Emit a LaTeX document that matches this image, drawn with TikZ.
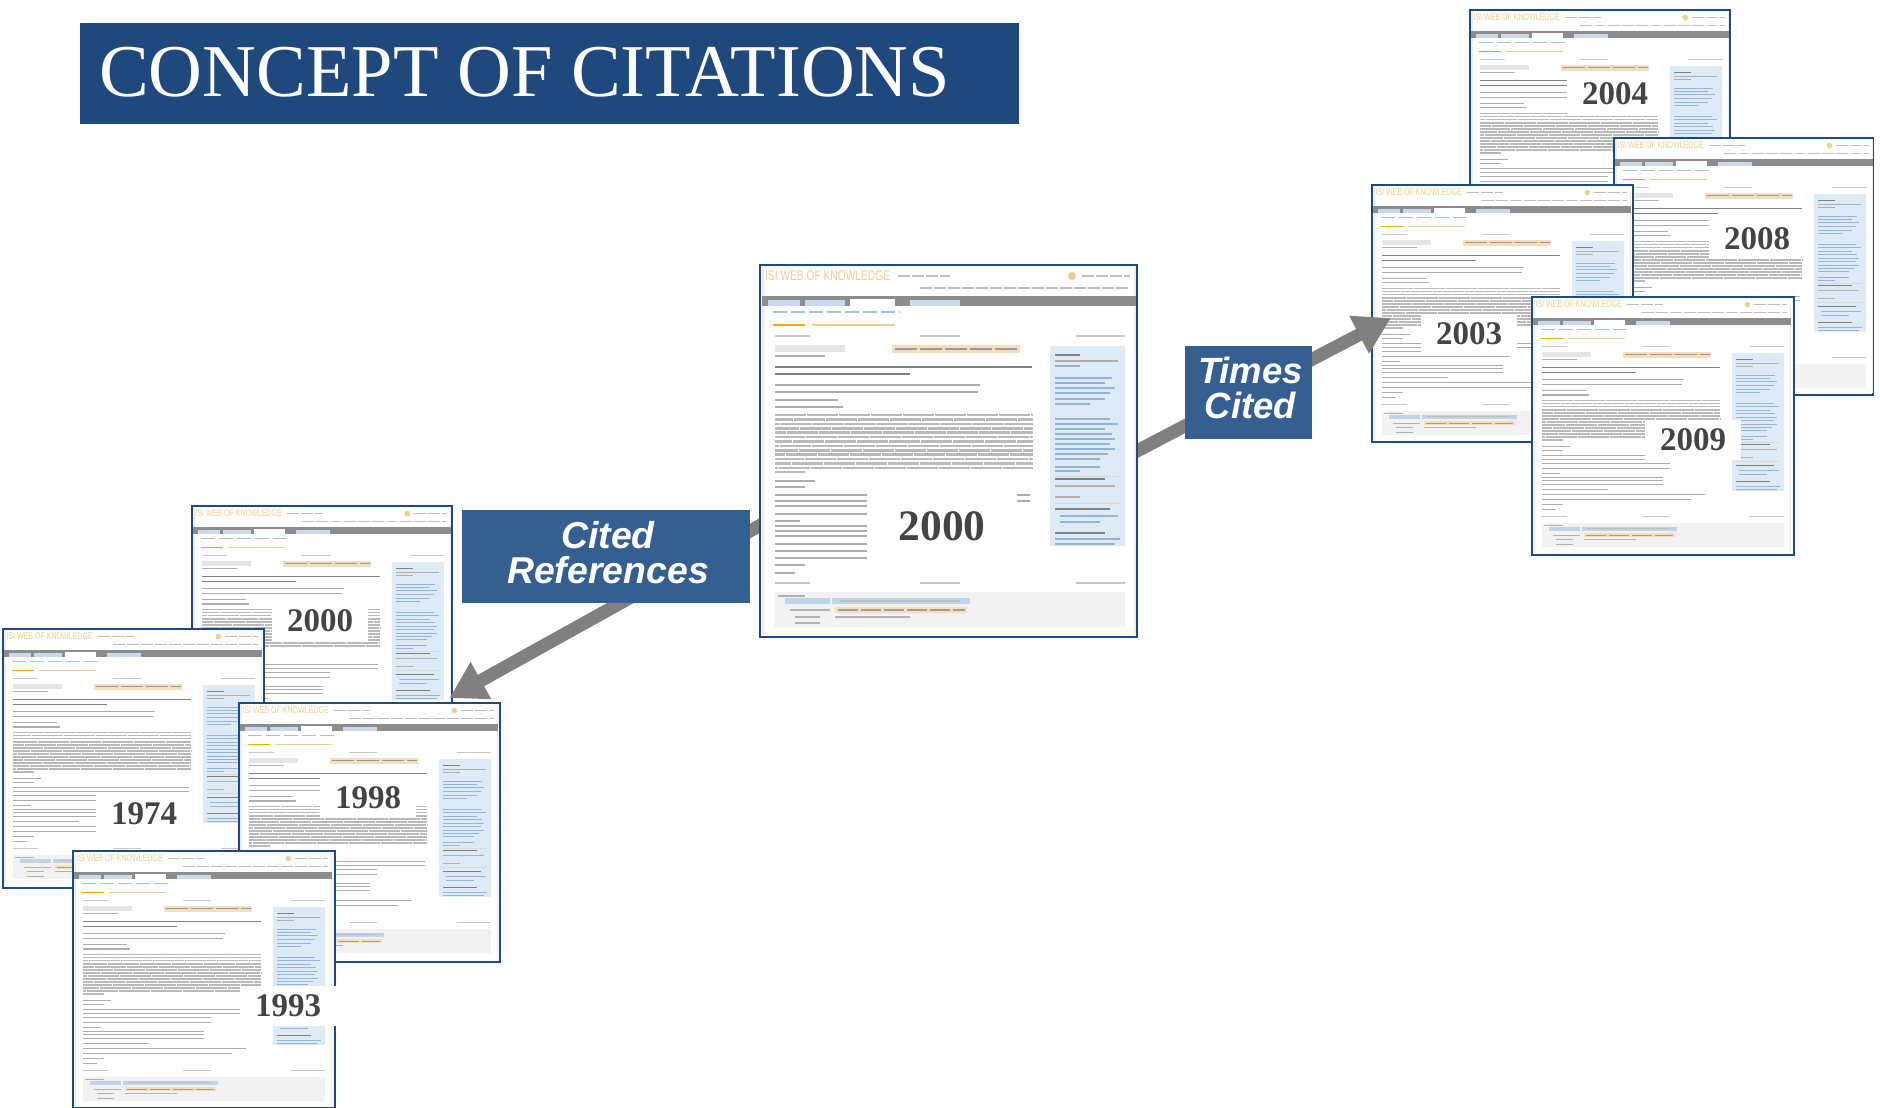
\documentclass[tikz,border=0pt]{standalone}
\usepackage{fontspec}
\setmainfont{Liberation Serif}
\setsansfont{Liberation Sans}
\usetikzlibrary{arrows.meta,calc}
\pgfdeclarelayer{front}
\definecolor{navyframe}{HTML}{1F4A80}
\definecolor{titleblue}{HTML}{1F497D}
\definecolor{labelblue}{HTML}{365F91}
\definecolor{arrowgrey}{HTML}{808080}
\definecolor{yeargrey}{HTML}{444444}
\definecolor{wokorange}{HTML}{F0CE96}
\definecolor{wokbutton}{HTML}{F6DDBB}
\definecolor{wokside}{HTML}{DDEBF6}
\definecolor{wokblue}{HTML}{A5C2DF}
\definecolor{woklink}{HTML}{93B3D8}
\definecolor{wokband}{HTML}{8C8C8C}
\tikzset{
  cardframe/.style={draw=navyframe,line width=2.5pt,fill=white,anchor=north west,inner sep=0pt,outer sep=0pt},
  yearbox/.style={fill=white,inner sep=0pt,text=yeargrey,font=\bfseries},
  labelbox/.style={fill=labelblue,text=white,align=center,inner sep=0pt,outer sep=0pt,anchor=north west,font=\sffamily\bfseries\itshape},
  linkarrow/.style={draw=arrowgrey,line width=13pt,shorten <=-20pt,-{Triangle[length=36pt,width=40pt,fill=arrowgrey]}}
}
% #1 name, #2 x, #3 y, #4 width, #5 height, #6 scale, #7 year, #8 year x, #9 year y
\newcommand{\wokcard}[9]{%
  \node[cardframe,minimum width=#4pt,minimum height=#5pt] (#1) at (#2,#3) {};
  \begin{scope}[shift={(#2,#3)},scale=#6]
    \def\SS{#6}
    \fill[black!7] (2,2) rectangle (4,\WokH);
    \fill[black!7] (374,2) rectangle (376,\WokH);
    \node[transform shape,anchor=west,inner sep=0pt,text=wokorange,font=\fontsize{14}{14}\sffamily,xscale=.73] at (5,11) {ISI WEB OF KNOWLEDGE};
    \fill[wokorange] (312,11) circle (4);
    \foreach \ya/\xa/\xb in {11/138/190,11/322/370,23/160/370}
      \draw[black!25,line width=\SS*1.3pt,dash pattern=on 12pt off 2pt] (\xa,\ya) -- (\xb,\ya);
    \fill[wokband] (2,31) rectangle (376,41);
    \fill[wokblue!60] (8,35) rectangle (40,41);
    \fill[wokblue!60] (45,35) rectangle (85,41);
    \fill[white] (90,34) rectangle (135,41);
    \fill[wokblue!60] (150,35) rectangle (200,41);
    \draw[wokblue,line width=\SS*1.2pt,dash pattern=on 14pt off 4pt] (13,47) -- (140,47);
    \draw[orange!70!yellow,line width=\SS*2pt] (13,60) -- (45,60);
    \draw[wokorange,line width=\SS*2pt] (52,60) -- (135,60);
    \foreach \xa/\xb in {15/50,160/200,316/365} {
      \draw[black!22,line width=\SS*1.2pt] (\xa,71) -- (\xb,71);
      \draw[black!22,line width=\SS*1.2pt] (\xa,318) -- (\xb,318);
    }
    \fill[black!10] (15,80) rectangle (85,87);
    \draw[black!30,line width=\SS*1.2pt] (15,91) -- (65,91);
    \fill[wokbutton] (132,80) rectangle (260,88);
    \draw[black!40,line width=\SS*1.4pt,dash pattern=on 22pt off 3pt] (135,84) -- (258,84);
    \draw[black!50,line width=\SS*1.9pt] (15,102) -- (272,102);
    \draw[black!50,line width=\SS*1.9pt] (15,109) -- (150,109);
    \foreach \ya/\xb in {120/220,127/218,135/78,142/83}
      \draw[black!32,line width=\SS*1.5pt] (15,\ya) -- (\xb,\ya);
    \foreach \k in {0,...,12}
      \draw[black!27,line width=\SS*2.6pt,dash pattern=on 31pt off 1pt,dash phase=\k*13pt] (15,150+\k*4.4) -- (273,150+\k*4.4);
    \draw[black!27,line width=\SS*2.6pt] (15,207) -- (45,207);
    \foreach \ya/\xb in {216/55,222/45,230/270,236/270,241/200,249/200,256/40,261/190,266/190,271/190,279/110,286/250,293/230,300/45,308/35}
      \draw[black!32,line width=\SS*1.4pt] (15,\ya) -- (\xb,\ya);
    \fill[black!5] (15,327) rectangle (365,362);
    \draw[black!30,line width=\SS*1.2pt] (18,331) -- (45,331);
    \fill[wokblue!70] (25,333) rectangle (70,339);
    \fill[wokblue!70] (72,333) rectangle (210,339);
    \draw[black!25,line width=\SS*1.2pt] (80,336) -- (200,336);
    \draw[black!30,line width=\SS*1.4pt] (30,345) -- (70,345);
    \fill[wokbutton] (75,342) rectangle (207,348);
    \draw[black!38,line width=\SS*1.2pt,dash pattern=on 20pt off 3pt] (78,345) -- (205,345);
    \foreach \ya/\xa/\xb in {352/35/60,352/75/150,358/35/60}
      \draw[black!30,line width=\SS*1.2pt] (\xa,\ya) -- (\xb,\ya);
    \fill[wokside] (290,81) rectangle (365,281);
    \draw[black!50,line width=\SS*1.5pt] (295,90) -- (320,90);
    \foreach \ya/\xb in {96/358,101/320}
      \draw[black!32,line width=\SS*1.2pt] (295,\ya) -- (\xb,\ya);
    \foreach \ya/\xb in {113/352,118/345,123/355,128/350,134/345,139/330,
                         154/350,159/358,164/345,169/352,174/355,179/350,184/355,189/348,194/340,
                         202/340,206/320}
      \draw[woklink,line width=\SS*1.3pt] (295,\ya) -- (\xb,\ya);
    \draw[black!15,line width=\SS*.8pt] (295,211) -- (360,211);
    \draw[black!50,line width=\SS*1.5pt] (295,214) -- (345,214);
    \draw[black!30,line width=\SS*1.2pt] (295,221) -- (355,221);
    \draw[black!30,line width=\SS*1.2pt] (295,232) -- (320,232);
    \draw[black!15,line width=\SS*.8pt] (295,238) -- (360,238);
    \draw[black!50,line width=\SS*1.5pt] (295,244) -- (350,244);
    \foreach \ya/\xb in {251/358,257/340}
      \draw[woklink,line width=\SS*1.3pt] (300,\ya) -- (\xb,\ya);
    \draw[black!50,line width=\SS*1.5pt] (295,268) -- (345,268);
    \foreach \ya/\xb in {274/360,279/355}
      \draw[woklink,line width=\SS*1.3pt] (295,\ya) -- (\xb,\ya);
  \end{scope}
  \node[yearbox,font=\bfseries\fontsize{\YearSize}{\YearSize}\selectfont,minimum width=\YearW pt,minimum height=\YearHt pt] (#1year) at (#8,#9) {#7};
}
\newcommand{\smallcards}{\def\WokH{370}\def\YearSize{33}\def\YearW{96}\def\YearHt{40}}
\begin{document}
\begin{tikzpicture}[x=1pt,y=-1pt]
\pgfsetlayers{main,front}
\useasboundingbox (0,0) rectangle (1880,1108);
\fill[white] (0,0) rectangle (1880,1108);
\fill[titleblue] (80,23) rectangle (1019,124);
\node[text=white,anchor=base west,inner sep=0pt,font=\fontsize{74.5}{74.5}\selectfont] (title) at (99,96) {CONCEPT OF CITATIONS};
\smallcards
\wokcard{pa}{192}{506}{260}{259}{.69}{2000}{320}{621}
\wokcard{pb}{3}{629}{261}{259}{.69}{1974}{144}{814}
\wokcard{pc}{239}{703}{261}{259}{.69}{1998}{368}{798}
\wokcard{pd}{73}{851}{262}{257}{.69}{1993}{288}{1006}
\wokcard{pe}{1470}{10}{260}{259}{.69}{2004}{1615}{94}
\wokcard{pf}{1614}{138}{259}{257}{.69}{2008}{1757}{239}
\wokcard{pg}{1372}{185}{261}{257}{.69}{2003}{1469}{334}
\wokcard{ph}{1532}{297}{262}{258}{.69}{2009}{1693}{440}
\begin{pgfonlayer}{front}
\def\YearSize{43.5}\def\YearW{150}\def\YearHt{74}
\wokcard{pmain}{760}{265}{377}{372}{1}{2000}{942}{526}
\node[labelbox,minimum width=288pt,minimum height=93pt] (cited) at (462,510) {};
\node[text=white,align=center,inner sep=0pt,font=\sffamily\bfseries\itshape\fontsize{37.4}{35}\selectfont] (citedtext) at ($(cited.center)+(2,-4)$) {Cited\\References};
\node[labelbox,minimum width=127pt,minimum height=93pt] (times) at (1185,346) {};
\node[text=white,align=center,inner sep=0pt,font=\sffamily\bfseries\itshape\fontsize{36.5}{35}\selectfont] (timestext) at ($(times.center)+(2,-5)$) {Times\\Cited};
\end{pgfonlayer}
\coordinate (reftip) at ($(pc.north)+(80,-5)$);
\coordinate (timestip) at ($(pg.west)+(19,4.5)$);
\draw[linkarrow] ($(pmain.south west)!0.3!(pmain.north west)$) -- (reftip);
\draw[linkarrow] (pmain.east) -- (timestip);
\end{tikzpicture}
\end{document}
